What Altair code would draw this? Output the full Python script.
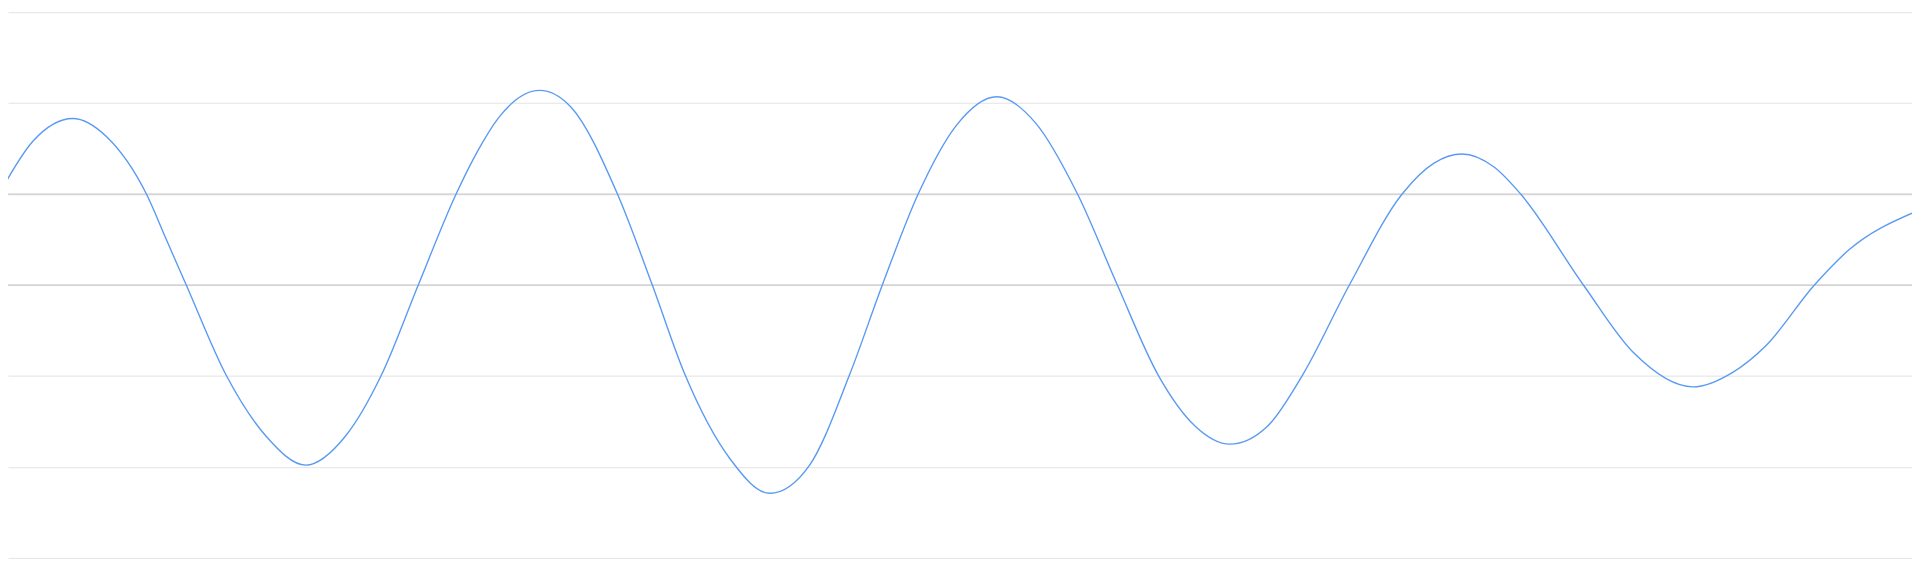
import altair as alt
import pandas as pd

# sample position (reference pixel column) and value
t = [0, 33, 73, 107, 147, 167, 187, 227, 267, 307, 347, 383, 420, 458, 480, 500,
     542, 573, 620, 655, 688, 733, 773, 813, 853, 886, 922, 960, 1001, 1040, 1082,
     1122, 1163, 1200, 1235, 1273, 1308, 1355, 1408, 1440, 1468, 1500, 1527, 1590,
     1640, 1700, 1740, 1773, 1822, 1857, 1920]
value = [1.02, 1.58, 1.83, 1.63, 1.00, 0.50, 0.00, -0.99, -1.66, -1.98, -1.66, -0.99,
         0.00, 1.00, 1.48, 1.83, 2.14, 1.96, 1.00, 0.00, -0.99, -1.91, -2.29, -1.98,
         -0.99, 0.00, 1.00, 1.75, 2.07, 1.78, 1.00, 0.00, -0.99, -1.55, -1.75, -1.55,
         -0.99, 0.00, 1.00, 1.34, 1.44, 1.30, 1.00, 0.00, -0.74, -1.12, -0.96, -0.67,
         0.00, 0.39, 0.79]

grid_values = [-3, -2, -1, 0, 1, 2, 3]
major_values = [0, 1]

df = pd.DataFrame({"t": t, "value": value})
major_df = pd.DataFrame({"v": major_values})

x_scale = alt.Scale(domain=[8, 1920], nice=False, zero=False)
y_scale = alt.Scale(domain=[-3, 3], nice=False, zero=False)

line = alt.Chart(df).mark_line(
    color="#5a9bf2", strokeWidth=1.4, interpolate="monotone", clip=True
).encode(
    x=alt.X("t:Q", scale=x_scale, axis=None),
    y=alt.Y(
        "value:Q",
        scale=y_scale,
        axis=alt.Axis(
            values=grid_values, labels=False, ticks=False, domain=False,
            title=None, grid=True, gridColor="#e3e3e3", gridWidth=1,
        ),
    ),
)

major = alt.Chart(major_df).mark_rule(color="#c2c2c2", strokeWidth=1).encode(
    y=alt.Y("v:Q", scale=y_scale)
)

chart = (
    alt.layer(major, line)
    .properties(
        width=1912,
        height=548,
        padding={"left": 0, "top": 3, "right": 0, "bottom": 2},
        autosize=alt.AutoSizeParams(type="none"),
        background="white",
    )
    .configure_view(stroke=None)
)

chart.save("out.html", embed_options={"renderer": "svg", "actions": False})
